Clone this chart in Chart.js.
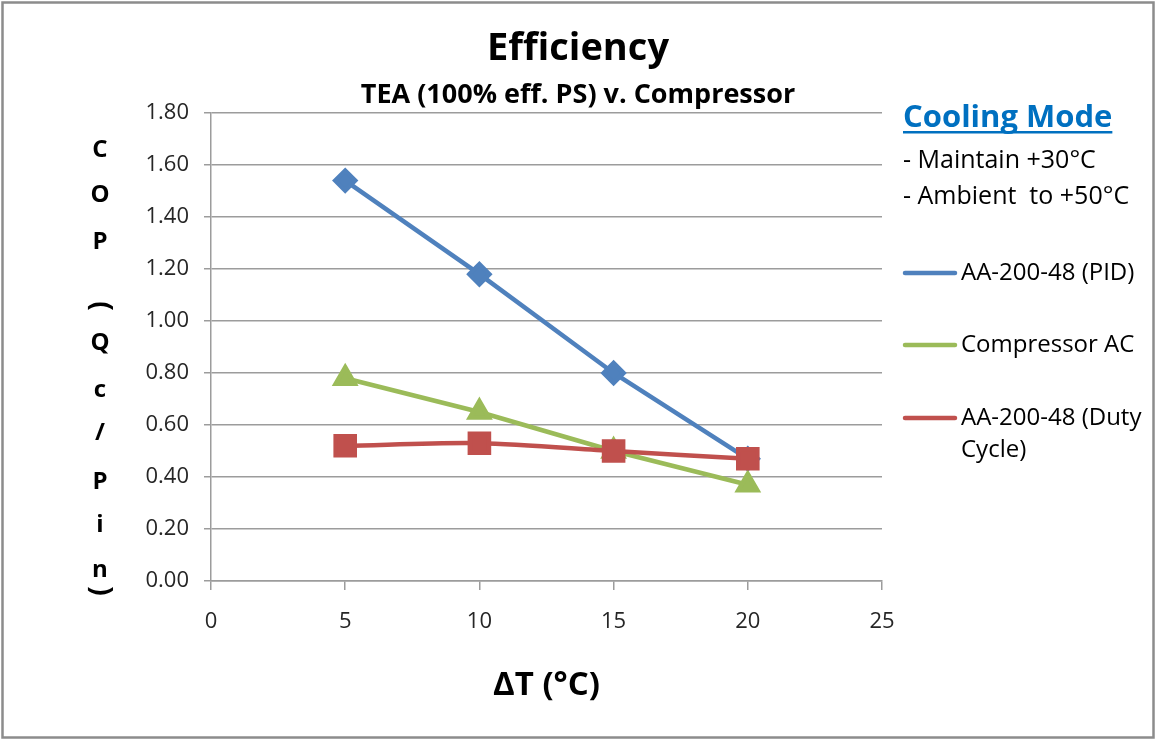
<!DOCTYPE html>
<html>
<head>
<meta charset="utf-8">
<title>Efficiency</title>
<script src="https://cdn.jsdelivr.net/npm/chart.js@4.4.1/dist/chart.umd.min.js"></script>
<style>
  html, body { margin: 0; padding: 0; background: #ffffff; }
  #wrap { width: 1155px; height: 740px; }
</style>
</head>
<body>
<div id="wrap"><canvas id="chart" width="1155" height="740"></canvas></div>
<script>
// ΔT (°C) at which each configuration was measured
const deltaT = [5, 10, 15, 20];

// COP (Qc/Pin) per configuration
const copPid        = [1.54, 1.18, 0.80, 0.47];
const copCompressor = [0.78, 0.65, 0.50, 0.37];
const copDutyCycle  = [0.52, 0.53, 0.50, 0.47];

const seriesNames = ['AA-200-48 (PID)', 'Compressor AC', 'AA-200-48 (Duty Cycle)'];

// axis ticks
const xTicks = [0, 5, 10, 15, 20, 25];
const yTicks = [0, 0.2, 0.4, 0.6, 0.8, 1.0, 1.2, 1.4, 1.6, 1.8];

// text
const titleText    = 'Efficiency';
const subtitleText = 'TEA (100% eff. PS) v. Compressor';
const xTitle       = 'ΔT (°C)';
const yTitleChars  = ['C', 'O', 'P', '(', 'Q', 'c', '/', 'P', 'i', 'n', ')'];
const noteHeading  = 'Cooling Mode';
const noteLines    = ['- Maintain +30°C', '- Ambient  to +50°C'];

const FONT = '"Open Sans", "DejaVu Sans", sans-serif';
const BLUE = '#4F81BD', GREEN = '#9BBB59', RED = '#C0504D';
const GRID = '#9c9c9c';

const pts = (ys) => deltaT.map((x, i) => ({ x: x, y: ys[i] }));

// frame, titles, stacked y title, notes and legend drawn on the canvas
const decorations = {
  id: 'decorations',
  beforeDraw(chart) {
    const ctx = chart.ctx;
    ctx.save();
    ctx.fillStyle = '#ffffff';
    ctx.fillRect(0, 0, chart.width, chart.height);
    ctx.strokeStyle = '#8c8c8c';
    ctx.lineWidth = 2.5;
    ctx.strokeRect(2.5, 2.5, chart.width - 4, chart.height - 5);
    ctx.restore();
  },
  afterDraw(chart) {
    const ctx = chart.ctx;
    const area = chart.chartArea;
    ctx.save();
    ctx.fillStyle = '#000000';
    ctx.textAlign = 'center';
    ctx.textBaseline = 'alphabetic';

    // titles
    ctx.font = 'bold 38px ' + FONT;
    ctx.fillText(titleText, 578, 60);
    ctx.font = 'bold 27px ' + FONT;
    ctx.fillText(subtitleText, 578, 103);

    // x axis title
    ctx.font = 'bold 33px ' + FONT;
    ctx.textBaseline = 'middle';
    ctx.fillText(xTitle, (area.left + area.right) / 2, 686);

    // stacked y axis title; brackets are turned a quarter turn clockwise
    const yPos = [150, 195, 242, 306, 343, 390, 433, 482, 525, 570, 591];
    yTitleChars.forEach((ch, i) => {
      if (ch === '(' || ch === ')') {
        ctx.save();
        ctx.setTransform(0, 1, -1, 0, 100, yPos[i]);
        ctx.font = 'bold 28px ' + FONT;
        ctx.textAlign = 'center';
        ctx.textBaseline = 'middle';
        ctx.fillStyle = '#000000';
        ctx.fillText(ch, 0, 0);
        ctx.restore();
      } else {
        ctx.font = 'bold 24px ' + FONT;
        ctx.fillText(ch, 100, yPos[i]);
      }
    });

    // notes block
    const nx = 903;
    ctx.textAlign = 'left';
    ctx.textBaseline = 'alphabetic';
    ctx.font = 'bold 31px ' + FONT;
    ctx.fillStyle = '#0070C0';
    ctx.fillText(noteHeading, nx, 127);
    const w = ctx.measureText(noteHeading).width;
    ctx.fillRect(nx, 131, w, 2.5);

    ctx.fillStyle = '#000000';
    ctx.font = '25px ' + FONT;
    ctx.fillText(noteLines[0], nx, 168);
    ctx.fillText(noteLines[1], nx, 204);

    // legend
    const entries = [
      { ds: chart.data.datasets[0], y: 273, lines: ['AA-200-48 (PID)'], r: 9 },
      { ds: chart.data.datasets[1], y: 345, lines: ['Compressor AC'], r: 10 },
      { ds: chart.data.datasets[2], y: 418, lines: ['AA-200-48 (Duty', 'Cycle)'], r: 11 }
    ];
    ctx.textBaseline = 'middle';
    ctx.font = '24px ' + FONT;
    entries.forEach((e) => {
      ctx.strokeStyle = e.ds.borderColor;
      ctx.lineWidth = 4.5;
      ctx.lineCap = 'round';
      ctx.beginPath();
      ctx.moveTo(905, e.y);
      ctx.lineTo(955, e.y);
      ctx.stroke();
      ctx.fillStyle = e.ds.pointBackgroundColor;
      ctx.strokeStyle = e.ds.pointBackgroundColor;
      ctx.lineWidth = 1;
      Chart.helpers.drawPoint(ctx, { pointStyle: e.ds.pointStyle, rotation: 0, borderWidth: 1 }, 930, e.y, e.r);
      ctx.fillStyle = '#000000';
      e.lines.forEach((t, k) => ctx.fillText(t, 961, e.y + k * 32));
    });

    ctx.restore();
  }
};

new Chart(document.getElementById('chart'), {
  type: 'line',
  data: {
    datasets: [
      {
        label: seriesNames[0],
        data: pts(copPid),
        borderColor: BLUE,
        backgroundColor: BLUE,
        pointBackgroundColor: BLUE,
        pointBorderColor: BLUE,
        pointStyle: 'rectRot',
        pointRadius: 10,
        borderWidth: 4.5,
        tension: 0,
        order: 2
      },
      {
        label: seriesNames[1],
        data: pts(copCompressor),
        borderColor: GREEN,
        backgroundColor: GREEN,
        pointBackgroundColor: GREEN,
        pointBorderColor: GREEN,
        pointStyle: 'triangle',
        pointRadius: 11,
        borderWidth: 4.5,
        tension: 0,
        order: 1
      },
      {
        label: seriesNames[2],
        data: pts(copDutyCycle),
        borderColor: RED,
        backgroundColor: RED,
        pointBackgroundColor: RED,
        pointBorderColor: RED,
        pointStyle: 'rect',
        pointRadius: 13.5,
        borderWidth: 4.5,
        tension: 0.3,
        order: 0
      }
    ]
  },
  options: {
    responsive: false,
    animation: false,
    devicePixelRatio: 1,
    layout: { padding: { top: 113, right: 273, bottom: 0, left: 0 } },
    plugins: {
      legend: { display: false },
      title: { display: false },
      tooltip: { enabled: false }
    },
    scales: {
      x: {
        type: 'linear',
        min: 0,
        max: 25,
        afterFit(scale) { scale.height = 159; },
        afterBuildTicks(scale) { scale.ticks = xTicks.map((v) => ({ value: v })); },
        grid: {
          drawOnChartArea: false,
          drawTicks: true,
          tickLength: 9,
          color: GRID,
          lineWidth: 1.5
        },
        border: { display: true, color: GRID, width: 1.5 },
        ticks: {
          color: '#262626',
          font: { family: FONT, size: 22 },
          padding: 19,
          maxRotation: 0,
          callback: (v) => String(v)
        }
      },
      y: {
        type: 'linear',
        min: 0,
        max: 1.8,
        afterFit(scale) { scale.width = 211; },
        afterBuildTicks(scale) { scale.ticks = yTicks.map((v) => ({ value: v })); },
        grid: {
          drawOnChartArea: true,
          drawTicks: true,
          tickLength: 7,
          color: GRID,
          lineWidth: 1.5
        },
        border: { display: true, color: GRID, width: 1.5 },
        ticks: {
          color: '#262626',
          font: { family: FONT, size: 22 },
          padding: 15,
          callback: (v) => Number(v).toFixed(2)
        }
      }
    }
  },
  plugins: [decorations]
});
</script>
</body>
</html>
